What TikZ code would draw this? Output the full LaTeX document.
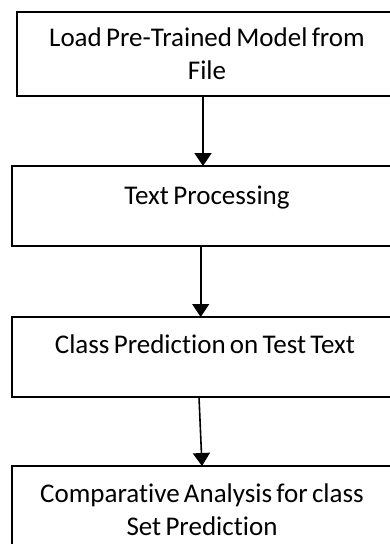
\documentclass[tikz,border=0pt]{standalone}
\usepackage{fontspec}
\setmainfont[Ligatures=NoCommon,WordSpace=0.7]{Carlito}
\usetikzlibrary{arrows.meta}
\begin{document}
\begin{tikzpicture}[x=1pt,y=-1pt,
  boxstyle/.style={draw=black,line width=1.6pt,fill=white},
  txt/.style={anchor=base,inner sep=0pt,font=\fontsize{27}{32.5}\selectfont,align=center},
  flow/.style={line width=1.6pt,-{Triangle[width=17pt,length=13pt]}}]
\useasboundingbox (0,0) rectangle (390,544);
\begin{scope}
\clip (0,0) rectangle (390,544);
\draw[boxstyle] (17,12) rectangle (410,96);
\node (b1) at (213.5,54) [minimum width=393pt,minimum height=84pt,inner sep=0pt] {};
\draw[boxstyle] (12,166) rectangle (410,246);
\node (b2) at (211,206) [minimum width=398pt,minimum height=80pt,inner sep=0pt] {};
\draw[boxstyle] (12,317) rectangle (410,397);
\node (b3) at (211,357) [minimum width=398pt,minimum height=80pt,inner sep=0pt] {};
\draw[boxstyle] (12,466) rectangle (410,570);
\node (b4) at (211,518) [minimum width=398pt,minimum height=104pt,inner sep=0pt] {};
\node[txt] (t1) at (207,79) {Load Pre-Trained Model from\\File};
\node[txt] (t2) at (207,204) {Text Processing};
\node[txt] (t3) at (205,353) {Class Prediction on Test Text};
\node[txt] (t4) at (202,535) {Comparative Analysis for class\\Set Prediction};
\coordinate (a1s) at (203,96);
\coordinate (a1e) at (203,166);
\coordinate (a2s) at (200.7,246);
\coordinate (a2e) at (200.7,317);
\coordinate (a3s) at (199,397);
\coordinate (a3e) at (202,466);
\draw[flow] (a1s) -- (a1e);
\draw[flow] (a2s) -- (a2e);
\draw[flow] (a3s) -- (a3e);
\end{scope}
\end{tikzpicture}
\end{document}
